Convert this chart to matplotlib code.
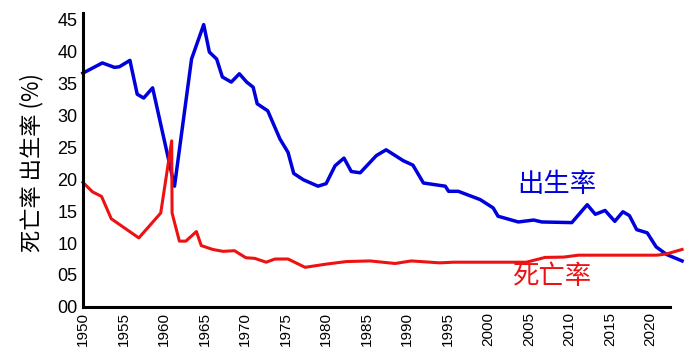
import matplotlib
matplotlib.use("Agg")
import matplotlib.pyplot as plt
from matplotlib.ticker import FormatStrFormatter

plt.rcParams['font.family'] = ['Liberation Sans', 'Noto Sans CJK SC', 'DejaVu Sans']

# -----------------------------------------------------------#
# Data (year, per mille)
# -----------------------------------------------------------#
birth_years = [1950.0, 1952.4, 1953.9, 1954.5, 1955.8, 1956.7, 1957.5, 1958.6,
               1961.3, 1963.4, 1964.9, 1965.6, 1966.5, 1967.2, 1968.3, 1969.3,
               1970.2, 1971.0, 1971.5, 1972.8, 1974.3, 1975.3, 1976.0, 1977.2,
               1979.0, 1980.0, 1981.1, 1982.2, 1983.1, 1984.2, 1986.2, 1987.4,
               1989.5, 1990.7, 1992.0, 1994.7, 1995.1, 1996.3, 1999.0, 2000.6,
               2001.2, 2003.7, 2005.6, 2006.6, 2010.3, 2012.2, 2013.2, 2014.4,
               2015.6, 2016.6, 2017.4, 2018.3, 2019.6, 2020.7, 2022.0, 2023.9]
birth_rate = [36.6, 38.2, 37.5, 37.6, 38.6, 33.3, 32.7, 34.3,
              18.9, 38.8, 44.2, 39.9, 38.8, 36.0, 35.2, 36.5,
              35.2, 34.4, 31.8, 30.7, 26.3, 24.2, 20.9, 19.9,
              18.9, 19.3, 22.1, 23.3, 21.2, 21.0, 23.7, 24.6,
              22.9, 22.2, 19.4, 18.9, 18.1, 18.1, 16.8, 15.5,
              14.2, 13.3, 13.6, 13.3, 13.2, 16.0, 14.5, 15.1,
              13.4, 14.9, 14.3, 12.1, 11.6, 9.4, 8.2, 7.2]

death_years = [1950.0, 1951.2, 1952.3, 1953.5, 1956.9, 1959.6, 1960.95, 1961.0,
               1961.9, 1962.7, 1964.0, 1964.6, 1966.0, 1967.3, 1968.7, 1970.1,
               1971.2, 1972.6, 1973.7, 1975.3, 1977.4, 1980.0, 1982.5, 1985.4,
               1988.5, 1990.5, 1994.0, 1995.7, 2004.7, 2007.0, 2009.3, 2011.1,
               2020.8, 2022.0, 2023.9]
death_rate = [19.5, 18.0, 17.3, 13.8, 10.8, 14.7, 26.0, 14.7,
              10.3, 10.3, 11.8, 9.6, 9.0, 8.7, 8.8, 7.7,
              7.6, 7.0, 7.5, 7.5, 6.2, 6.7, 7.1, 7.2,
              6.8, 7.2, 6.9, 7.0, 7.0, 7.75, 7.8, 8.1,
              8.1, 8.3, 9.0]

x_ticks = list(range(1950, 2021, 5))
y_ticks = list(range(0, 46, 5))

# -----------------------------------------------------------#
# Graph
# -----------------------------------------------------------#
fig = plt.figure(figsize=(6.85, 3.54), dpi=100)
ax = fig.add_axes([0.121, 0.133, 0.857, 0.830])

ax.plot(birth_years, birth_rate, color='#0000dd', linewidth=2.5, clip_on=False)
ax.plot(death_years, death_rate, color='#ee1111', linewidth=2.2, clip_on=False)

ax.text(2008.4, 19.2, '出生率', color='#0000dd', fontsize=19,
        ha='center', va='center', family=['Noto Sans CJK SC'])
ax.text(2007.8, 4.7, '死亡率', color='#ee1111', fontsize=19,
        ha='center', va='center', family=['Noto Sans CJK SC'])

ax.set_xlim(1950, 2022.4)
ax.set_ylim(0, 46)
ax.set_xticks(x_ticks)
ax.set_yticks(y_ticks)
ax.yaxis.set_major_formatter(FormatStrFormatter('%02d'))
ax.tick_params(axis='x', length=0, pad=4, labelsize=11, labelrotation=90)
ax.tick_params(axis='y', length=0, pad=4, labelsize=13)

for side in ['top', 'right']:
    ax.spines[side].set_visible(False)
for side in ['left', 'bottom']:
    ax.spines[side].set_linewidth(2.2)
    ax.spines[side].set_color('black')

ax.set_ylabel('死亡率 出生率 (%)', fontsize=16,
              family=['Noto Sans CJK SC', 'DejaVu Sans'])
ax.yaxis.set_label_coords(-0.068, 0.49)

fig.savefig('out.png', dpi=100)
